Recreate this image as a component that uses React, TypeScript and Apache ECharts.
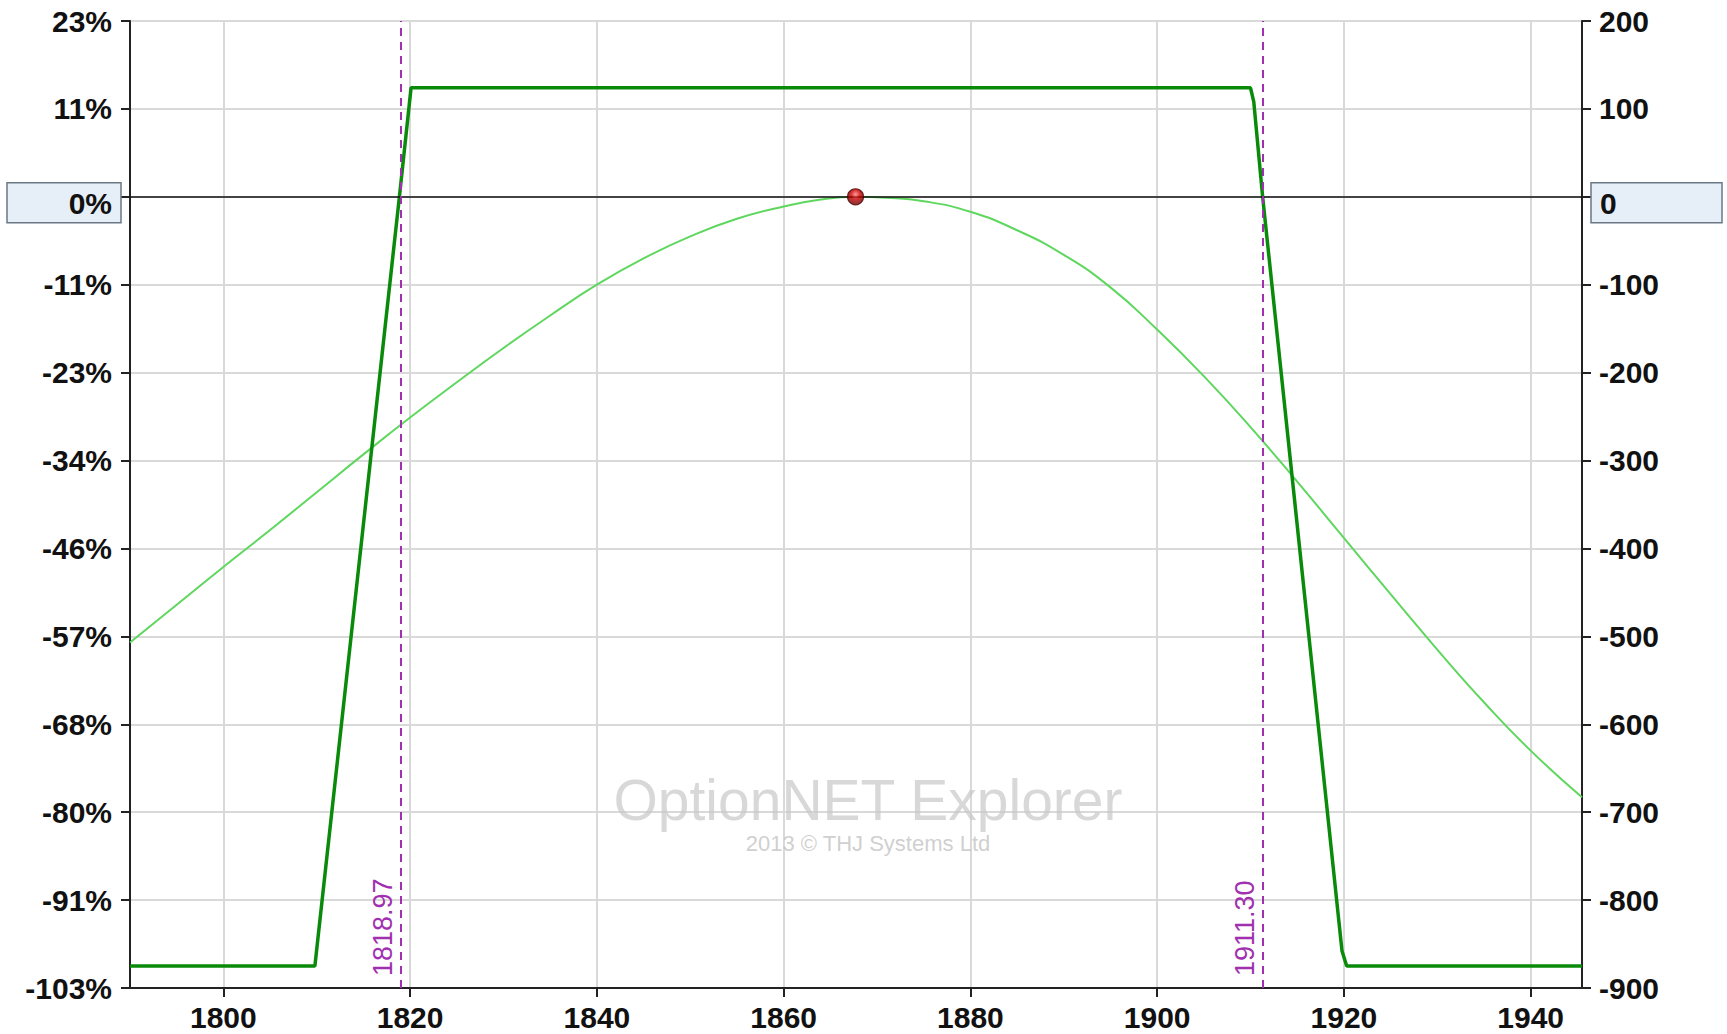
import React, { useEffect, useRef } from 'react';
import * as echarts from 'echarts';

const xTicks = [1800, 1820, 1840, 1860, 1880, 1900, 1920, 1940];
const pctLabels = ['23%', '11%', '0%', '-11%', '-23%', '-34%', '-46%', '-57%', '-68%', '-80%', '-91%', '-103%'];

// Expiration P&L (dark green)
const expiryLine: [number, number][] = [
  [1790, -875], [1809.8, -875], [1818.85, 0], [1820.1, 124],
  [1910.0, 124], [1910.35, 108], [1911.3, 0], [1919.8, -858], [1920.3, -875], [1945.5, -875],
];

// Today P&L (light green)
const todayLine: [number, number][] = [
  [1790, -507], [1795, -464], [1800, -421], [1805, -379], [1810, -336], [1815, -293],
  [1820, -251], [1825, -211], [1830, -172], [1835, -135], [1840, -100], [1845, -70],
  [1850, -45], [1855, -25], [1860, -11], [1864, -3], [1867.7, 0], [1871, -1],
  [1875, -5], [1880, -17], [1885, -38], [1890, -66], [1895, -103], [1900, -151],
  [1905, -204], [1910, -262], [1915, -324], [1920, -388], [1925, -452], [1930, -515],
  [1935, -575], [1940, -630], [1945.5, -683],
];

const breakevens = [1818.97, 1911.3];
const currentPoint: [number, number][] = [[1867.7, 0]];

const FONT = 'Liberation Sans, Arial, sans-serif';

export default function App() {
  const ref = useRef<HTMLDivElement>(null);
  useEffect(() => {
    if (!ref.current) return;
    const chart = echarts.init(ref.current, undefined, { renderer: 'svg' });
    const grid = { left: 130, right: 145, top: 21, bottom: 46 };
    chart.setOption({
      animation: false,
      backgroundColor: '#ffffff',
      grid: { ...grid, show: true, borderColor: '#222', borderWidth: 2, backgroundColor: 'transparent' },
      xAxis: {
        type: 'value',
        min: 1790,
        max: 1945.5,
        axisLine: { show: true, onZero: false, lineStyle: { color: '#222', width: 2 } },
        axisTick: { show: true, customValues: xTicks, length: 9, lineStyle: { color: '#222', width: 2 } },
        axisLabel: {
          customValues: xTicks, fontSize: 30, fontWeight: 'bold', color: '#111', fontFamily: FONT, margin: 14,
          formatter: (v: number) => String(v),
        },
        splitLine: { show: true, lineStyle: { color: '#d9d9d9', width: 2 } },
      },
      yAxis: [
        {
          type: 'value', position: 'left', min: -900, max: 200, interval: 100,
          axisLine: { show: true, onZero: false, lineStyle: { color: '#222', width: 2 } },
          axisTick: { show: true, length: 9, lineStyle: { color: '#222', width: 2 } },
          axisLabel: {
            fontSize: 30, fontWeight: 'bold', color: '#111', fontFamily: FONT, margin: 18,
            formatter: (v: number) => (v === 0 ? '' : pctLabels[Math.round((200 - v) / 100)] ?? ''),
          },
          splitLine: { show: true, lineStyle: { color: '#d9d9d9', width: 2 } },
        },
        {
          type: 'value', position: 'right', min: -900, max: 200, interval: 100,
          axisLine: { show: true, onZero: false, lineStyle: { color: '#222', width: 2 } },
          axisTick: { show: true, length: 9, lineStyle: { color: '#222', width: 2 } },
          axisLabel: {
            fontSize: 30, fontWeight: 'bold', color: '#111', fontFamily: FONT, margin: 17,
            formatter: (v: number) => (v === 0 ? '' : String(v)),
          },
          splitLine: { show: false },
        },
      ],
      series: [
        {
          type: 'line',
          name: 'today',
          data: todayLine,
          smooth: 0.5,
          showSymbol: false,
          symbol: 'none',
          lineStyle: { color: '#5fd75f', width: 2 },
          z: 2,
          markLine: {
            silent: true,
            symbol: ['none', 'none'],
            label: { show: false },
            lineStyle: { color: '#111', width: 1.6, type: 'solid' },
            data: [{ yAxis: 0 }],
          },
        },
        {
          type: 'line',
          name: 'expiry',
          data: expiryLine,
          showSymbol: false,
          symbol: 'none',
          lineStyle: { color: '#0a8a0a', width: 3.5 },
          z: 3,
          markLine: {
            silent: true,
            symbol: ['none', 'none'],
            lineStyle: { color: '#a030b0', width: 2, type: [8, 6] },
            label: {
              show: true,
              position: 'insideStartTop',
              formatter: (p: any) => Number(p.value).toFixed(2),
              color: '#a030b0',
              fontSize: 27,
              fontFamily: FONT,
              distance: [12, 4],
            },
            data: breakevens.map((b) => ({ xAxis: b })),
          },
        },
        {
          type: 'scatter',
          name: 'current',
          data: currentPoint,
          symbol: 'circle',
          symbolSize: 16,
          z: 10,
          itemStyle: {
            color: new echarts.graphic.RadialGradient(0.5, 0.35, 0.6, [
              { offset: 0, color: '#ff8080' },
              { offset: 0.45, color: '#cc0000' },
              { offset: 1, color: '#7a0000' },
            ]),
            borderColor: '#4a0000',
            borderWidth: 1.2,
          },
        },
      ],
    });

    const y0 = chart.convertToPixel({ yAxisIndex: 0 }, 0) as number;
    const xl = grid.left;
    const xr = 1727 - grid.right;
    const cx = (xl + xr) / 2 + 12;
    chart.setOption({
      graphic: [
        {
          type: 'text', z: 0, silent: true, x: cx, y: 800,
          style: {
            text: 'OptionNET Explorer', font: `57px ${FONT}`, fill: 'rgba(200,200,200,0.7)',
            align: 'center', verticalAlign: 'middle',
          },
        },
        {
          type: 'text', z: 0, silent: true, x: cx, y: 843,
          style: {
            text: '2013 © THJ Systems Ltd', font: `22px ${FONT}`, fill: 'rgba(195,195,195,0.8)',
            align: 'center', verticalAlign: 'middle',
          },
        },
        {
          type: 'rect', z: 100, silent: true,
          shape: { x: xl - 123, y: y0 - 14, width: 114, height: 40 },
          style: { fill: '#e6eef7', stroke: '#6a7888', lineWidth: 1.5 },
        },
        {
          type: 'text', z: 101, silent: true, x: xl - 18, y: y0 + 7,
          style: {
            text: '0%', font: `bold 30px ${FONT}`, fill: '#111', align: 'right', verticalAlign: 'middle',
          },
        },
        {
          type: 'rect', z: 100, silent: true,
          shape: { x: xr + 9, y: y0 - 14, width: 131, height: 40 },
          style: { fill: '#e6eef7', stroke: '#6a7888', lineWidth: 1.5 },
        },
        {
          type: 'text', z: 101, silent: true, x: xr + 18, y: y0 + 7,
          style: {
            text: '0', font: `bold 30px ${FONT}`, fill: '#111', align: 'left', verticalAlign: 'middle',
          },
        },
      ],
    });

    return () => chart.dispose();
  }, []);
  return <div ref={ref} style={{ position: 'fixed', left: 0, top: 0, width: 1727, height: 1034 }} />;
}
